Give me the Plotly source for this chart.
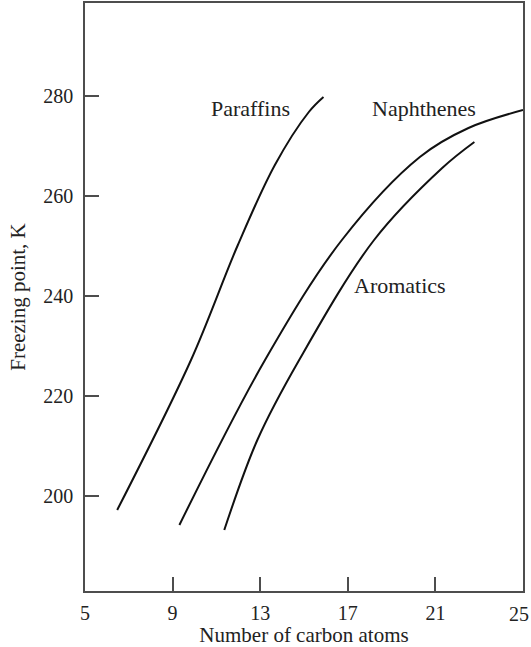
import plotly.graph_objects as go

# curves (number of carbon atoms, freezing point in K)
paraffins_x = [6.47, 9.84, 11.98, 13.67, 15.22, 15.89]
paraffins_y = [197.2, 227.2, 250.2, 266.2, 276.8, 279.8]

naphthenes_x = [9.31, 13.22, 16.73, 20.29, 22.51, 25.0]
naphthenes_y = [194.2, 227.2, 251.2, 267.8, 273.6, 277.2]

aromatics_x = [11.36, 12.87, 14.78, 18.2, 21.31, 22.78]
aromatics_y = [193.2, 211.2, 227.2, 251.2, 265.6, 270.8]

x_ticks = [5, 9, 13, 17, 21, 25]
y_ticks = [200, 220, 240, 260, 280]

labels = ['Paraffins', 'Naphthenes', 'Aromatics']
label_x = [12.56, 20.5, 19.4]
label_y = [277.6, 277.6, 242.2]

serif = 'Liberation Serif, Times New Roman, serif'
ink = '#4d4d4d'

# the last label sits flush with the right edge in the original, so it is
# drawn separately (right-aligned) instead of centred on its tick
x_tick_text = [str(v) for v in x_ticks[:-1]] + ['']

fig = go.Figure()
for xs, ys, name in [(paraffins_x, paraffins_y, labels[0]),
                     (naphthenes_x, naphthenes_y, labels[1]),
                     (aromatics_x, aromatics_y, labels[2])]:
    fig.add_trace(go.Scatter(x=xs, y=ys, mode='lines', name=name,
                             line=dict(color='#111111', width=2, shape='spline', smoothing=1.0),
                             showlegend=False))

for t, lx, ly in zip(labels, label_x, label_y):
    fig.add_annotation(x=lx, y=ly, text=t, showarrow=False,
                       font=dict(family=serif, size=22, color='#222222'))

fig.add_annotation(x=x_ticks[-1], xref='x', y=0, yref='paper', text=str(x_ticks[-1]),
                   showarrow=False, xanchor='right', yanchor='middle',
                   xshift=8, yshift=-23,
                   font=dict(family=serif, size=20, color='#222222'))

fig.update_layout(
    width=531, height=647,
    margin=dict(l=85, r=8, t=3, b=56),
    paper_bgcolor='white', plot_bgcolor='white',
    font=dict(family=serif, size=20, color='#222222'),
)
fig.update_xaxes(range=[5, 25], tickvals=x_ticks, ticktext=x_tick_text,
                 ticks='inside', ticklen=14,
                 tickwidth=1.5, tickcolor=ink, showline=True, mirror=True,
                 linecolor=ink, linewidth=1.5, showgrid=False, zeroline=False,
                 ticklabelstandoff=3, automargin=False,
                 title=dict(text='Number of carbon atoms', standoff=2,
                            font=dict(family=serif, size=21)))
fig.update_yaxes(range=[181, 298.6], tickvals=y_ticks, ticks='inside', ticklen=14,
                 tickwidth=1.5, tickcolor=ink, showline=True, mirror=True,
                 linecolor=ink, linewidth=1.5, showgrid=False, zeroline=False,
                 ticklabelstandoff=6, automargin=False,
                 title=dict(text='Freezing point, K', standoff=12,
                            font=dict(family=serif, size=21)))

# drop the browser's default page margin so the figure sits at the window corner
fig.write_html('out.html', config={'displayModeBar': False},
               post_script="document.body.style.margin='0';")
